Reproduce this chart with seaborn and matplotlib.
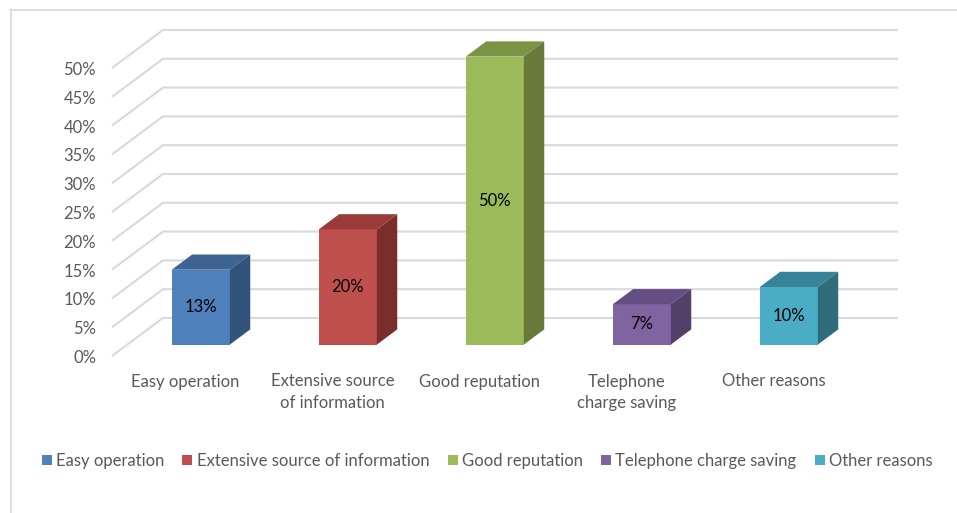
import numpy as np
import pandas as pd
import matplotlib
matplotlib.use("Agg")
import matplotlib.pyplot as plt
import seaborn as sns
from matplotlib.patches import Polygon, Rectangle
from matplotlib.lines import Line2D
from matplotlib.transforms import Affine2D, ScaledTranslation

# ---- data ----
categories = ["Easy operation", "Extensive source of information", "Good reputation",
              "Telephone charge saving", "Other reasons"]
axis_labels = ["Easy operation", "Extensive source\nof information", "Good reputation",
               "Telephone\ncharge saving", "Other reasons"]
values = [13, 20, 50, 7, 10]
y_ticks = list(range(0, 55, 5))

face_colors = ["#4F81BD", "#C0504D", "#9BBB59", "#8064A2", "#4BACC6"]
top_colors = ["#3C6392", "#9A3B39", "#7B9444", "#654E83", "#37839A"]
side_colors = ["#31537C", "#7A2E2C", "#677A3A", "#524069", "#2F6D7D"]

GRID = "#D9D9D9"
TEXT = "#595959"
FONT = "Lato"
FS = 12

sns.set_theme(style="white")
plt.rcParams["font.family"] = [FONT, "DejaVu Sans"]

fig = plt.figure(figsize=(9.57, 5.13), dpi=100)
W, H = 957, 513
# front plane of the value axis
ax = fig.add_axes([112 / W, 1 - 356 / H, 735 / W, 288 / H])

# depth of the chart box (back wall offset, in data units)
DX, DY = 0.347, 6.6
D_FRONT, D_BACK = 0.30, 0.70

# gridlines: diagonal on the side wall + horizontal on the back wall
x_left = -0.5
x_right = len(categories) - 0.5 + DX
for v in y_ticks:
    ax.plot([x_left, x_left + DX, x_right], [v, v + DY, v + DY],
            color=GRID, lw=1.5, clip_on=False, zorder=1, solid_capstyle="butt")
    ax.text(x_left, v, f"{v}%", ha="right", va="center", fontsize=FS, color=TEXT,
            transform=ax.transData + ScaledTranslation(-0.16, -0.02, fig.dpi_scale_trans))

# bars: front faces via seaborn, then top and side faces
df = pd.DataFrame({"reason": categories, "value": values})
sns.barplot(data=df, x="reason", y="value", hue="reason", palette=face_colors,
            width=0.395, dodge=False, legend=False, ax=ax, saturation=1, zorder=3)
ax.set_xlim(-0.5, len(categories) - 0.5)
ax.set_ylim(0, 50)
ax.axis("off")

sx, sy = D_FRONT * DX, D_FRONT * DY
ddx, ddy = (D_BACK - D_FRONT) * DX, (D_BACK - D_FRONT) * DY
shift = Affine2D().translate(sx, sy) + ax.transData
for i, p in enumerate(ax.patches[:len(values)]):
    p.set_transform(shift)
    p.set_clip_on(False)
    p.set_edgecolor("none")
    x0 = p.get_x() + sx
    x1 = x0 + p.get_width()
    y0 = sy
    y1 = sy + p.get_height()
    top = Polygon([(x0, y1), (x1, y1), (x1 + ddx, y1 + ddy), (x0 + ddx, y1 + ddy)],
                  closed=True, facecolor=top_colors[i], edgecolor="none",
                  clip_on=False, zorder=3)
    side = Polygon([(x1, y0), (x1 + ddx, y0 + ddy), (x1 + ddx, y1 + ddy), (x1, y1)],
                   closed=True, facecolor=side_colors[i], edgecolor="none",
                   clip_on=False, zorder=3)
    ax.add_patch(top)
    ax.add_patch(side)
    ax.text((x0 + x1) / 2, (y0 + y1) / 2, f"{values[i]}%", ha="center", va="center",
            fontsize=FS, color="#000000", zorder=5)

# category labels under the front plane
for i, lab in enumerate(axis_labels):
    ax.text(i, 0, lab, ha="center", va="top", fontsize=FS, color=TEXT, linespacing=1.45,
            transform=ax.transData + ScaledTranslation(0, -0.175, fig.dpi_scale_trans))

# legend
handles = [Rectangle((0, 0), 1, 1, facecolor=c, edgecolor="none") for c in face_colors]
fig.legend(handles, categories, loc="center", bbox_to_anchor=(487 / W, 1 - 461 / H),
           ncol=5, frameon=False, fontsize=FS, handlelength=0.6, handleheight=0.6,
           handletextpad=0.25, columnspacing=1.1, labelcolor=TEXT, borderpad=0)

# chart border
fig.add_artist(Line2D([10.5 / W, 10.5 / W], [1 - 9 / H, 0], transform=fig.transFigure,
                      color=GRID, lw=1.2))
fig.add_artist(Line2D([10 / W, 1], [1 - 9.5 / H, 1 - 9.5 / H], transform=fig.transFigure,
                      color=GRID, lw=1.2))

fig.savefig("out.png", dpi=100, facecolor="white")
